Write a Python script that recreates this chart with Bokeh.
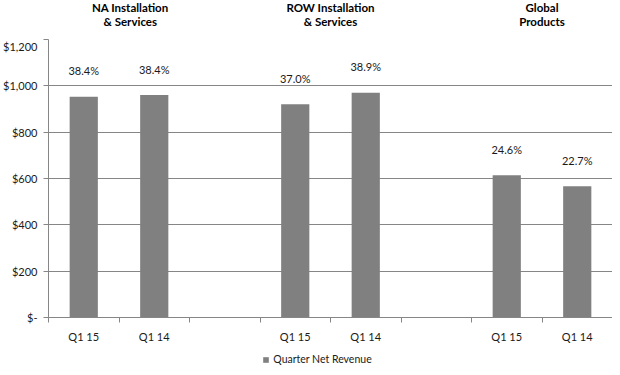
from bokeh.plotting import figure
from bokeh.layouts import column
from bokeh.models import (ColumnDataSource, Range1d, FixedTicker, Legend, LegendItem)
from bokeh.core.properties import value
from bokeh.embed import file_html
from bokeh.resources import INLINE

# ---- data ----
segments = ["NA Installation", "ROW Installation", "Global"]
segments_line2 = ["& Services", "& Services", "Products"]
quarters = ["Q1 15", "Q1 14", "", "Q1 15", "Q1 14", "", "Q1 15", "Q1 14"]
revenue = [953, 960, 921, 970, 614, 567]          # $ millions, bars
margins = ["38.4%", "38.4%", "37.0%", "38.9%", "24.6%", "22.7%"]
y_ticks = [0, 200, 400, 600, 800, 1000, 1200]
y_tick_labels = ["$-", "$200", "$400", "$600", "$800", "$1,000", "$1,200"]
series_name = "Quarter Net Revenue"

FONT = "Lato"
GRAY = "#808080"
AXIS = "#868686"
TEXT = "#1a1a1a"
FW = 564   # frame width
LB = 40    # left border

slot_centers = [i + 0.5 for i in range(len(quarters))]
bar_x = [c for c, q in zip(slot_centers, quarters) if q]
src = ColumnDataSource(dict(x=bar_x, top=revenue, lab=margins))
xr = Range1d(0, len(quarters))


def bare(fig):
    fig.outline_line_color = None
    fig.xaxis.visible = False
    fig.yaxis.visible = False
    fig.xgrid.visible = False
    fig.ygrid.visible = False
    fig.border_fill_color = "white"
    fig.background_fill_color = "white"


# ---- header with group titles ----
head = figure(frame_width=FW, frame_height=39, output_backend="svg", toolbar_location=None,
              x_range=xr, y_range=Range1d(0, 39), min_border_left=LB, min_border_right=0,
              min_border_top=0, min_border_bottom=0)
bare(head)
title_x = [1.16, 4.0, 7.0]
head_src = ColumnDataSource(dict(x=title_x, l1=segments, l2=segments_line2))
head.text(x="x", y=32, text="l1", source=head_src, text_align="center", text_baseline="middle",
          text_font=value(FONT), text_font_size="11.5px", text_font_style="bold", text_color="#000000")
head.text(x="x", y=18, text="l2", source=head_src, text_align="center", text_baseline="middle",
          text_font=value(FONT), text_font_size="11.5px", text_font_style="bold", text_color="#000000")

# ---- main chart ----
p = figure(frame_width=FW, frame_height=278, output_backend="svg", toolbar_location=None,
           x_range=xr, y_range=Range1d(0, 1200),
           min_border_left=LB, min_border_right=0, min_border_top=0, min_border_bottom=22)
p.outline_line_color = None
p.background_fill_color = "white"
p.border_fill_color = "white"

r = p.vbar(x="x", top="top", width=0.4, source=src, fill_color=GRAY, line_color=None)
p.text(x="x", y="top", text="lab", source=src, text_align="center",
       text_baseline="middle", y_offset=-26, text_font=value(FONT),
       text_font_size="11px", text_color=TEXT)

p.xgrid.grid_line_color = None
p.ygrid.grid_line_color = AXIS
p.ygrid.ticker = FixedTicker(ticks=y_ticks)

p.yaxis.ticker = FixedTicker(ticks=y_ticks)
p.yaxis.major_label_overrides = {t: l for t, l in zip(y_ticks, y_tick_labels)}
p.yaxis.axis_line_color = AXIS
p.yaxis.major_tick_line_color = AXIS
p.yaxis.major_tick_out = 5
p.yaxis.major_tick_in = 0
p.yaxis.minor_tick_line_color = None
p.yaxis.major_label_text_font = FONT
p.yaxis.major_label_text_font_size = "11px"
p.yaxis.major_label_text_color = TEXT
p.yaxis.major_label_standoff = 6

p.xaxis.ticker = FixedTicker(ticks=slot_centers, minor_ticks=list(range(len(quarters) + 1)))
p.xaxis.major_label_overrides = {c: q for c, q in zip(slot_centers, quarters)}
p.xaxis.axis_line_color = AXIS
p.xaxis.major_tick_line_color = None
p.xaxis.major_tick_out = 0
p.xaxis.major_tick_in = 0
p.xaxis.minor_tick_line_color = AXIS
p.xaxis.minor_tick_out = 5
p.xaxis.minor_tick_in = 0
p.xaxis.major_label_text_font = FONT
p.xaxis.major_label_text_font_size = "11px"
p.xaxis.major_label_text_color = TEXT
p.xaxis.major_label_standoff = 7

# ---- legend strip ----
leg = figure(frame_width=FW, frame_height=20, output_backend="svg", toolbar_location=None,
             x_range=xr, y_range=Range1d(0, 1), min_border_left=LB, min_border_right=0,
             min_border_top=0, min_border_bottom=0)
bare(leg)
leg_src = ColumnDataSource(dict(x=[float("nan")], top=[float("nan")]))
dummy = leg.vbar(x="x", top="top", width=0.4, source=leg_src, fill_color=GRAY, line_color=None)
legend = Legend(items=[LegendItem(label=series_name, renderers=[dummy])],
                orientation="horizontal", location=(249, 0),
                border_line_color=None, background_fill_alpha=0,
                label_text_font=FONT, label_text_font_size="10.5px",
                label_text_color=TEXT, glyph_width=7, glyph_height=7,
                label_standoff=4, padding=0, margin=0)
leg.add_layout(legend, "center")

layout = column(head, p, leg, spacing=0)
open("out.html", "w").write(file_html(layout, INLINE))
